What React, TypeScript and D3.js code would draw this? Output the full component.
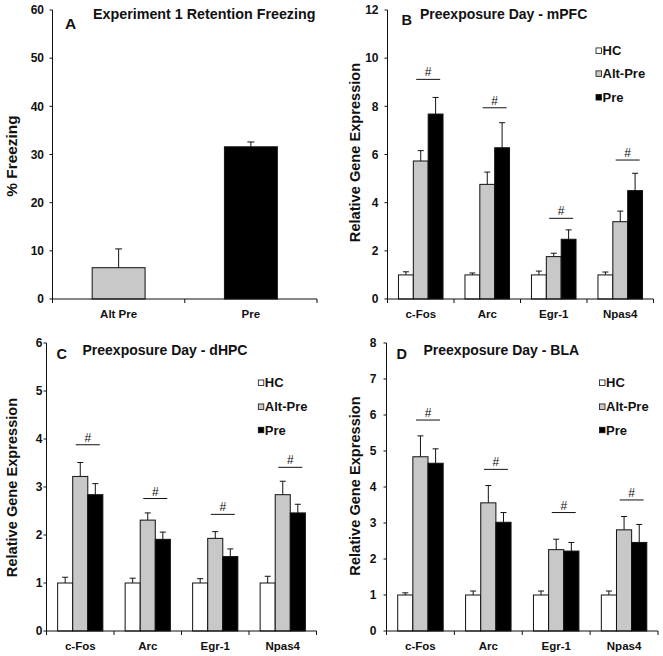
import React from "react";
import * as d3 from "d3";

// ---------- Data ----------
const freezingGroups = ["Alt Pre", "Pre"];
const freezingMean = [6.5, 31.6];
const freezingSem = [3.9, 1.0];
const freezingTicks = [0, 10, 20, 30, 40, 50, 60];

const genes = ["c-Fos", "Arc", "Egr-1", "Npas4"];
const groups = ["HC", "Alt-Pre", "Pre"];

// mPFC
const mpfcHC = [1.0, 1.0, 1.0, 1.0];
const mpfcHCSem = [0.13, 0.08, 0.16, 0.12];
const mpfcAlt = [5.73, 4.76, 1.76, 3.21];
const mpfcAltSem = [0.43, 0.51, 0.14, 0.44];
const mpfcPre = [7.68, 6.28, 2.48, 4.5];
const mpfcPreSem = [0.69, 1.04, 0.39, 0.72];
const mpfcSig = [9.12, 7.94, 3.35, 5.77];
const mpfcTicks = [0, 2, 4, 6, 8, 10, 12];

// dHPC
const dhpcHC = [1.0, 1.0, 1.0, 1.0];
const dhpcHCSem = [0.12, 0.1, 0.09, 0.14];
const dhpcAlt = [3.22, 2.31, 1.93, 2.84];
const dhpcAltSem = [0.29, 0.15, 0.14, 0.28];
const dhpcPre = [2.84, 1.91, 1.55, 2.46];
const dhpcPreSem = [0.23, 0.15, 0.16, 0.18];
const dhpcSig = [3.88, 2.76, 2.43, 3.41];
const dhpcTicks = [0, 1, 2, 3, 4, 5, 6];

// BLA
const blaHC = [1.0, 1.0, 1.0, 1.0];
const blaHCSem = [0.06, 0.11, 0.11, 0.11];
const blaAlt = [4.84, 3.56, 2.26, 2.81];
const blaAltSem = [0.58, 0.48, 0.29, 0.37];
const blaPre = [4.66, 3.02, 2.22, 2.46];
const blaPreSem = [0.4, 0.27, 0.24, 0.5];
const blaSig = [5.86, 4.49, 3.29, 3.64];
const blaTicks = [0, 1, 2, 3, 4, 5, 6, 7, 8];

// ---------- Styles ----------
const FONT = "'Liberation Sans', Arial, Helvetica, sans-serif";
const FILLS = ["#ffffff", "#c8c8c8", "#000000"];
const INK = "#111";

function YAxis({ y, x, ticks, gap }: any) {
  const [b, t] = y.range();
  return (
    <g>
      <line x1={x} x2={x} y1={b} y2={t} stroke={INK} strokeWidth={1} />
      {ticks.map((v: number) => (
        <g key={v}>
          <line x1={x - 3} x2={x} y1={y(v)} y2={y(v)} stroke={INK} />
          <text x={x - gap} y={y(v)} dy="0.36em" textAnchor="end" fontSize={12} fontWeight="bold" fill={INK}>
            {v}
          </text>
        </g>
      ))}
    </g>
  );
}

function XAxis({ x, y0, labelY, fontSize }: any) {
  const [a, b] = x.range();
  const n = x.domain().length;
  const step = (b - a) / n;
  const bounds = d3.range(n + 1).map((i) => a + i * step);
  return (
    <g>
      <line x1={a} x2={b} y1={y0} y2={y0} stroke={INK} />
      {bounds.map((bx, i) => (
        <line key={i} x1={bx} x2={bx} y1={y0} y2={y0 + 4} stroke={INK} />
      ))}
      {x.domain().map((d: string) => (
        <text key={d} x={x(d) + x.bandwidth() / 2} y={labelY} textAnchor="middle" fontSize={fontSize} fontWeight="bold" fill={INK}>
          {d}
        </text>
      ))}
    </g>
  );
}

function ErrorBar({ cx, yTop, yErr, cap }: any) {
  return (
    <g stroke={INK} strokeWidth={1}>
      <line x1={cx} x2={cx} y1={yTop} y2={yErr} />
      <line x1={cx - cap / 2} x2={cx + cap / 2} y1={yErr} y2={yErr} />
    </g>
  );
}

function GenePanel({ x0, x1, yBottom, yTop, yMax, ticks, tickGap, means, sems, sig, legend, title, letter, yLabel }: any) {
  const x = d3.scaleBand().domain(genes).range([x0, x1]).paddingInner(0.33).paddingOuter(0.165);
  const xs = d3.scaleBand().domain(groups).range([0, x.bandwidth()]);
  const y = d3.scaleLinear().domain([0, yMax]).range([yBottom, yTop]);
  const bw = xs.bandwidth();
  return (
    <g>
      {genes.map((g, gi) => (
        <g key={g}>
          {groups.map((s, si) => {
            const bx = (x(g) as number) + (xs(s) as number);
            const v = means[si][gi];
            return (
              <g key={s}>
                <ErrorBar cx={bx + bw / 2} yTop={y(v)} yErr={y(v + sems[si][gi])} cap={6} />
                <rect x={bx} y={y(v)} width={bw} height={y(0) - y(v)} fill={FILLS[si]} stroke={INK} strokeWidth={1} />
              </g>
            );
          })}
          {(() => {
            const mid = (x(g) as number) + (xs("Pre") as number);
            const sy = y(sig[gi]);
            return (
              <g>
                <line x1={mid - 12} x2={mid + 12} y1={sy} y2={sy} stroke={INK} strokeWidth={1} />
                <text x={mid} y={sy - 3} textAnchor="middle" fontSize={12} fill={INK}>#</text>
              </g>
            );
          })()}
        </g>
      ))}
      <YAxis y={y} x={x0} ticks={ticks} gap={tickGap} />
      <XAxis x={x} y0={yBottom} labelY={yBottom + 18.5} fontSize={11.5} />
      {groups.map((s, si) => (
        <g key={s}>
          <rect x={legend.x} y={legend.ys[si] - 2.75} width={5.5} height={5.5} fill={FILLS[si]} stroke={INK} strokeWidth={0.8} />
          <text x={legend.x + 6.5} y={legend.ys[si]} dy="0.36em" fontSize={13} fontWeight="bold" fill={INK}>
            {s}
          </text>
        </g>
      ))}
      <text x={title.x} y={title.y} fontSize={14} fontWeight="bold" fill={INK}>{title.text}</text>
      <text x={letter.x} y={letter.y} fontSize={14.5} fontWeight="bold" fill={INK}>{letter.text}</text>
      <text
        transform={`translate(${yLabel.x},${yLabel.y}) rotate(-90)`}
        textAnchor="middle"
        fontSize={14.6}
        fontWeight="bold"
        fill={INK}
      >
        Relative Gene Expression
      </text>
    </g>
  );
}

function FreezingPanel() {
  const x = d3.scaleBand().domain(freezingGroups).range([52.5, 317]).paddingInner(0.6).paddingOuter(0.3);
  const y = d3.scaleLinear().domain([0, 60]).range([299, 10]);
  const fills = [FILLS[1], FILLS[2]];
  return (
    <g>
      {freezingGroups.map((g, i) => {
        const bx = x(g) as number;
        const v = freezingMean[i];
        return (
          <g key={g}>
            <ErrorBar cx={bx + x.bandwidth() / 2} yTop={y(v)} yErr={y(v + freezingSem[i])} cap={7} />
            <rect x={bx} y={y(v)} width={x.bandwidth()} height={y(0) - y(v)} fill={fills[i]} stroke={INK} strokeWidth={1} />
          </g>
        );
      })}
      <YAxis y={y} x={52.5} ticks={freezingTicks} gap={8.5} />
      <XAxis x={x} y0={299} labelY={317.5} fontSize={11.5} />
      <text x={93} y={18.5} fontSize={14.3} fontWeight="bold" fill={INK}>Experiment 1 Retention Freezing</text>
      <text x={65} y={29.3} fontSize={15.5} fontWeight="bold" fill={INK}>A</text>
      <text transform="translate(17,156) rotate(-90)" textAnchor="middle" fontSize={15.4} fontWeight="bold" fill={INK}>
        % Freezing
      </text>
    </g>
  );
}

export default function App() {
  return (
    <svg
      width={663}
      height={656}
      style={{ position: "absolute", left: 0, top: 0, background: "#fff" }}
      fontFamily={FONT}
    >
      <rect width={663} height={656} fill="#fff" />
      <FreezingPanel />
      <GenePanel
        x0={387.5}
        x1={653.5}
        yBottom={299}
        yTop={10}
        yMax={12}
        ticks={mpfcTicks}
        tickGap={9}
        means={[mpfcHC, mpfcAlt, mpfcPre]}
        sems={[mpfcHCSem, mpfcAltSem, mpfcPreSem]}
        sig={mpfcSig}
        legend={{ x: 596, ys: [50.7, 73.6, 97.3] }}
        title={{ x: 420, y: 18.5, text: "Preexposure Day - mPFC" }}
        letter={{ x: 401.5, y: 25.2, text: "B" }}
        yLabel={{ x: 359.5, y: 152.5 }}
      />
      <GenePanel
        x0={46.5}
        x1={316.5}
        yBottom={631}
        yTop={343}
        yMax={6}
        ticks={dhpcTicks}
        tickGap={4}
        means={[dhpcHC, dhpcAlt, dhpcPre]}
        sems={[dhpcHCSem, dhpcAltSem, dhpcPreSem]}
        sig={dhpcSig}
        legend={{ x: 258.3, ys: [382.7, 406.7, 430] }}
        title={{ x: 82.5, y: 354.5, text: "Preexposure Day - dHPC" }}
        letter={{ x: 56.5, y: 359.3, text: "C" }}
        yLabel={{ x: 17, y: 487.5 }}
      />
      <GenePanel
        x0={386.5}
        x1={658}
        yBottom={631}
        yTop={343}
        yMax={8}
        ticks={blaTicks}
        tickGap={10}
        means={[blaHC, blaAlt, blaPre]}
        sems={[blaHCSem, blaAltSem, blaPreSem]}
        sig={blaSig}
        legend={{ x: 599.5, ys: [382.7, 406.7, 430] }}
        title={{ x: 423.5, y: 354.5, text: "Preexposure Day - BLA" }}
        letter={{ x: 396.5, y: 359.3, text: "D" }}
        yLabel={{ x: 359.5, y: 486 }}
      />
    </svg>
  );
}
